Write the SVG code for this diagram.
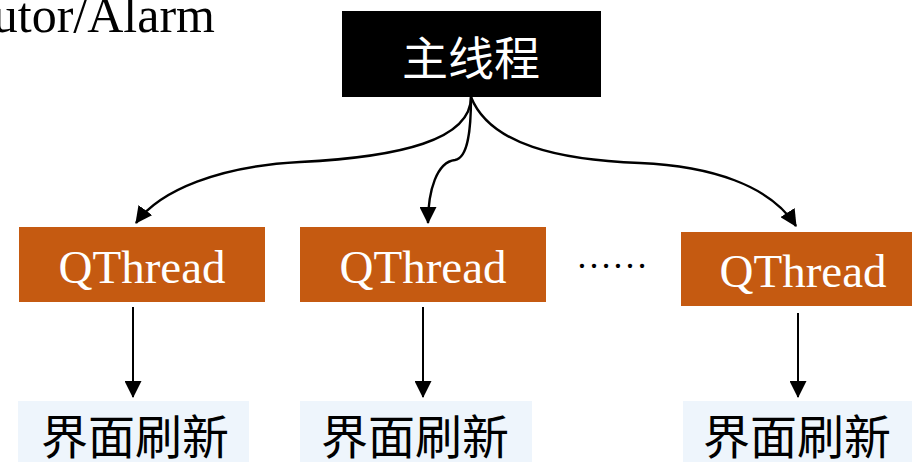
<svg xmlns="http://www.w3.org/2000/svg" width="912" height="462" viewBox="0 0 912 462">
  <style>
    .serif { font-family: "Liberation Serif", "Times New Roman", "Noto Sans CJK SC", serif; }
    .cjk { font-family: "Noto Sans CJK SC", "Noto Sans CJK JP", sans-serif; }
    .thread rect { fill: #C55A11; }
    .thread text { fill: #FFFFFF; font-size: 47px; text-anchor: middle; }
    .ui rect { fill: #EEF5FC; }
    .ui text { fill: #000000; font-size: 47px; text-anchor: middle; }
    .edge { fill: none; stroke: #000000; stroke-width: 2.4; }
    .drop { fill: none; stroke: #000000; stroke-width: 2; }
  </style>
  <defs>
    <marker id="head" viewBox="0 0 16 16" refX="15" refY="8" markerWidth="17" markerHeight="17" markerUnits="userSpaceOnUse" orient="auto">
      <path d="M0,0 L16,8 L0,16 Z" fill="#000000"/>
    </marker>
  </defs>

  <rect width="912" height="462" fill="#FFFFFF"/>

  <!-- caption fragment, top left -->
  <text class="serif" x="215" y="32" font-size="50" text-anchor="end" fill="#000000">utor/Alarm</text>

  <!-- main thread -->
  <g id="main-thread">
    <rect x="342" y="11" width="259" height="86" fill="#000000"/>
    <text class="cjk" x="471" y="75" font-size="46" text-anchor="middle" fill="#FFFFFF">主线程</text>
  </g>

  <!-- worker threads -->
  <g id="qthread-1" class="thread">
    <rect x="19" y="227" width="246" height="75"/>
    <text class="serif" x="142" y="283">QThread</text>
  </g>
  <g id="qthread-2" class="thread">
    <rect x="300" y="227" width="246" height="75"/>
    <text class="serif" x="423" y="283">QThread</text>
  </g>
  <g id="qthread-3" class="thread">
    <rect x="681" y="232" width="246" height="74"/>
    <text class="serif" x="803" y="287">QThread</text>
  </g>

  <g id="more">
    <text class="serif" x="576" y="268" font-size="36" fill="#000000">……</text>
  </g>

  <!-- UI refresh targets -->
  <g id="refresh-1" class="ui">
    <rect x="18" y="401" width="231" height="70"/>
    <text class="cjk" x="135" y="454">界面刷新</text>
  </g>
  <g id="refresh-2" class="ui">
    <rect x="300" y="401" width="232" height="70"/>
    <text class="cjk" x="415" y="454">界面刷新</text>
  </g>
  <g id="refresh-3" class="ui">
    <rect x="683" y="401" width="229" height="70"/>
    <text class="cjk" x="797" y="454">界面刷新</text>
  </g>

  <!-- connectors -->
  <g id="connectors">
    <path class="edge" d="M471,97 C471,140 400,157 300,162 C220,166 160,190 136,223" marker-end="url(#head)"/>
    <path class="edge" d="M471,97 C471,130 468,158 455,160 C437,162 428,190 428,223" marker-end="url(#head)"/>
    <path class="edge" d="M471,97 C490,145 560,160 640,163 C710,166 770,185 796,226" marker-end="url(#head)"/>
    <path class="drop" d="M133,307 L133,397" marker-end="url(#head)"/>
    <path class="drop" d="M423,307 L423,397" marker-end="url(#head)"/>
    <path class="drop" d="M798,313 L798,397" marker-end="url(#head)"/>
  </g>
</svg>
